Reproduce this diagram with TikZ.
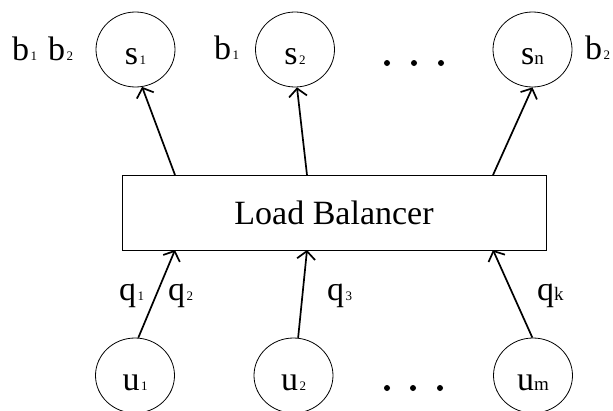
\documentclass[tikz,border=0pt]{standalone}
\usepackage{fontspec}
\setmainfont{Liberation Serif}
\usetikzlibrary{shapes.geometric,arrows.meta}
\newcommand\dsub[1]{\kern1.5pt{\fontsize{13}{13}\selectfont #1}}
\newcommand\lsub[1]{{\fontsize{19}{19}\selectfont #1}}
\begin{document}
\begin{tikzpicture}[x=1pt,y=-1pt,
  every node/.style={font=\fontsize{34}{40}\selectfont},
  host/.style={ellipse,draw,line width=0.8pt,minimum width=79pt,minimum height=75pt,
    inner sep=0pt,text height=29pt,text depth=0pt},
  link/.style={line width=1.7pt,-{Straight Barb[length=8pt,width=18pt]}}]
  \clip (0,0) rectangle (613,410);

  % servers
  \node[host] (s1) at (135.5,49.5) {s\dsub{1}};
  \node[host] (s2) at (295,49.5) {s\dsub{2}};
  \node[host] (sn) at (532.5,49.5) {s\lsub{n}};
  \node[anchor=base west,inner sep=0pt] (b12) at (12,60) {b\dsub{1}\hspace{11pt}b\dsub{2}};
  \node[anchor=base west,inner sep=0pt] (b1) at (214,59) {b\dsub{1}};
  \node[anchor=base west,inner sep=0pt] (b2) at (585,59) {b\dsub{2}};
  \foreach \x in {387,414,441}
    \fill (\x,63) circle [radius=3pt];

  % balancer
  \node[draw,line width=0.8pt,minimum width=424pt,minimum height=75pt,inner sep=0pt]
    (lb) at (334,212.5) {Load Balancer};
  \coordinate (top1) at (175,175);
  \coordinate (top2) at (307,175);
  \coordinate (top3) at (493,175);
  \coordinate (bot1) at (175,250);
  \coordinate (bot2) at (307,250);
  \coordinate (bot3) at (493,250);

  \draw[link] (top1) -- (s1.-80);
  \draw[link] (top2) -- (s2.-87);
  \draw[link] (top3) -- (sn.-90);

  % users
  \node[host] (u1) at (135,375.5) {u\dsub{1}};
  \node[host] (u2) at (293.5,375.5) {u\dsub{2}};
  \node[host] (um) at (533,375.5) {u\lsub{m}};
  \foreach \x in {387,413,440}
    \fill (\x,388) circle [radius=3pt];

  \draw[link] (u1.85) -- (bot1);
  \draw[link] (u2.83) -- (bot2);
  \draw[link] (um.91) -- (bot3);

  \node[anchor=base west,inner sep=0pt] (q1) at (119,300) {q\dsub{1}};
  \node[anchor=base west,inner sep=0pt] (q2) at (168,300) {q\dsub{2}};
  \node[anchor=base west,inner sep=0pt] (q3) at (327,300) {q\dsub{3}};
  \node[anchor=base west,inner sep=0pt] (qk) at (537,300) {q\lsub{k}};
\end{tikzpicture}
\end{document}
